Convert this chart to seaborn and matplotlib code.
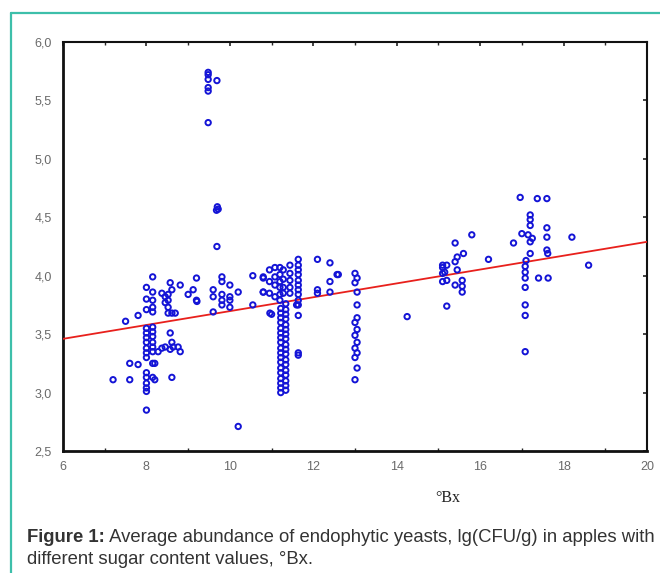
import numpy as np
import pandas as pd
import matplotlib
matplotlib.use("Agg")
import matplotlib.pyplot as plt
import seaborn as sns
from matplotlib.lines import Line2D
from matplotlib.ticker import FuncFormatter, MultipleLocator

# ---------------- data ----------------
# cluster around 7-9 °Bx
bx_a = [7.2, 7.6, 7.5, 7.8, 7.6, 7.8, 8.2, 8.2,
        8.0, 8.0, 8.0, 8.0, 8.0, 8.0, 8.0, 8.0, 8.0, 8.0, 8.0, 8.0, 8.0, 8.0, 8.0, 8.0,
        8.15, 8.15, 8.15, 8.15, 8.15, 8.15, 8.15, 8.15, 8.15, 8.15, 8.15, 8.15, 8.15]
lg_a = [3.11, 3.11, 3.61, 3.66, 3.25, 3.24, 3.25, 3.11,
        3.90, 3.80, 3.71, 3.55, 3.51, 3.47, 3.43, 3.38, 3.34, 3.30, 3.17, 3.13, 3.08, 3.04, 3.01, 2.85,
        3.99, 3.86, 3.79, 3.73, 3.69, 3.56, 3.52, 3.48, 3.43, 3.39, 3.35, 3.25, 3.13]

bx_b = [8.37, 8.45, 8.52, 8.45, 8.52, 8.57, 8.61, 8.52, 8.61, 8.52, 8.69,
        8.57, 8.61, 8.64, 8.57, 8.76, 8.81, 8.37, 8.28, 8.45, 8.61,
        8.81, 9.12, 9.0, 9.2, 9.2, 9.21]
lg_b = [3.85, 3.82, 3.79, 3.77, 3.73, 3.94, 3.88, 3.84, 3.68, 3.68, 3.68,
        3.51, 3.43, 3.39, 3.37, 3.39, 3.35, 3.38, 3.35, 3.39, 3.13,
        3.92, 3.88, 3.84, 3.79, 3.98, 3.78]

# cluster around 9.5-10.8 °Bx (incl. the high outliers)
bx_c = [9.48, 9.48, 9.48, 9.69, 9.48, 9.48, 9.48, 9.70, 9.68, 9.72, 9.69,
        9.81, 9.81, 10.0, 10.2, 9.6, 9.6, 9.81, 9.81, 10.0, 10.0, 9.81, 10.0, 9.6,
        10.55, 10.8, 10.8, 10.55, 10.2]
lg_c = [5.74, 5.72, 5.68, 5.67, 5.61, 5.58, 5.31, 4.59, 4.56, 4.57, 4.25,
        3.99, 3.95, 3.92, 3.86, 3.88, 3.82, 3.84, 3.79, 3.82, 3.79, 3.75, 3.73, 3.69,
        4.00, 3.98, 3.86, 3.75, 2.71]

# dense cluster around 10.8-12.6 °Bx
bx_d = [10.8, 10.8, 10.95, 10.95, 10.95, 11.08, 11.08, 11.08, 11.08,
        11.2, 11.2, 11.2, 11.2, 11.2, 11.2, 11.28, 11.28, 11.28, 11.28,
        11.44, 11.44, 11.44, 11.44, 11.44,
        11.64, 11.64, 11.64, 11.64, 11.64, 11.64, 11.64, 11.64, 11.64, 11.64, 11.64, 11.64,
        12.1, 12.4, 12.6, 12.4, 12.1, 12.1, 12.4, 10.96, 11.0, 11.6, 11.64, 12.57]
lg_d = [3.99, 3.86, 4.05, 3.95, 3.85, 4.07, 3.99, 3.92, 3.82,
        4.07, 4.01, 3.95, 3.90, 3.84, 3.79, 4.05, 3.97, 3.90, 3.85,
        4.02, 3.96, 3.90, 3.85, 4.09,
        4.14, 4.09, 4.05, 4.01, 3.96, 3.92, 3.88, 3.84, 3.79, 3.75, 3.66, 3.34,
        4.14, 4.11, 4.01, 3.95, 3.88, 3.85, 3.86, 3.68, 3.67, 3.75, 3.32, 4.01]

# the long column at ~11.2-11.35 °Bx
bx_e = [11.22] * 18 + [11.34] * 18
lg_e = [3.00, 3.04, 3.08, 3.12, 3.17, 3.21, 3.26, 3.30, 3.34, 3.38, 3.43, 3.47,
        3.51, 3.55, 3.60, 3.64, 3.68, 3.72,
        3.02, 3.06, 3.10, 3.15, 3.19, 3.24, 3.28, 3.33, 3.37, 3.41, 3.46, 3.50,
        3.54, 3.58, 3.63, 3.67, 3.71, 3.76]

# column at 13 °Bx and single point at 14.2
bx_f = [13.0, 13.05, 13.0, 13.05, 13.05, 13.05, 13.0, 13.05, 13.0, 13.05, 13.0,
        13.05, 13.0, 13.05, 13.0, 14.25]
lg_f = [4.02, 3.98, 3.94, 3.86, 3.75, 3.64, 3.60, 3.54, 3.49, 3.43, 3.38,
        3.34, 3.30, 3.21, 3.11, 3.65]

# cluster 15-16.2 °Bx
bx_g = [15.8, 15.4, 15.6, 15.45, 15.4, 15.1, 15.2, 15.1, 15.15, 15.45, 15.1,
        16.2, 15.1, 15.2, 15.4, 15.57, 15.57, 15.57, 15.2]
lg_g = [4.35, 4.28, 4.19, 4.16, 4.12, 4.09, 4.09, 4.07, 4.03, 4.05, 4.02,
        4.14, 3.95, 3.96, 3.92, 3.96, 3.91, 3.86, 3.74]

# cluster 16.8-18.6 °Bx
bx_h = [16.96, 17.37, 17.6, 17.2, 17.2, 17.2, 17.0, 17.15, 17.25, 17.2,
        17.6, 17.6, 16.8, 18.2, 17.6, 17.62, 17.2, 17.1, 17.08, 17.08, 17.08,
        17.4, 17.63, 17.08, 17.08, 17.08, 17.08, 18.6]
lg_h = [4.67, 4.66, 4.66, 4.52, 4.48, 4.43, 4.36, 4.35, 4.32, 4.29,
        4.41, 4.33, 4.28, 4.33, 4.22, 4.19, 4.19, 4.13, 4.08, 4.03, 3.98,
        3.98, 3.98, 3.90, 3.75, 3.66, 3.35, 4.09]

# fitted regression line
fit_intercept = 3.104
fit_slope = 0.0593
x_range = [6, 20]
y_range = [2.5, 6.0]
x_ticks = [6, 8, 10, 12, 14, 16, 18, 20]
y_ticks = [2.5, 3.0, 3.5, 4.0, 4.5, 5.0, 5.5, 6.0]

caption_bold = "Figure 1:"
caption_rest1 = " Average abundance of endophytic yeasts, lg(CFU/g) in apples with"
caption_line2 = "different sugar content values, °Bx."
x_label = "°Bx"

# ---------------- build table ----------------
df = pd.DataFrame({
    "bx": bx_a + bx_b + bx_c + bx_d + bx_e + bx_f + bx_g + bx_h,
    "lg": lg_a + lg_b + lg_c + lg_d + lg_e + lg_f + lg_g + lg_h,
})
line_df = pd.DataFrame({"bx": x_range})
line_df["lg"] = fit_intercept + fit_slope * line_df["bx"]

# ---------------- plot ----------------
sns.set_style("white")
plt.rcParams["font.family"] = ["Liberation Sans", "DejaVu Sans"]

fig = plt.figure(figsize=(6.6, 5.73), dpi=100)
ax = fig.add_axes([63 / 660, 1 - 451 / 573, (647 - 63) / 660, (451 - 42) / 573])

sns.lineplot(data=line_df, x="bx", y="lg", ax=ax, color="#e8201c", lw=1.3, zorder=3)
sns.scatterplot(data=df, x="bx", y="lg", ax=ax, marker="o", s=15, zorder=4)
coll = ax.collections[-1]
coll.set_facecolor("none")
coll.set_edgecolor("#1414d6")
coll.set_linewidth(1.4)

ax.set_xlim(*x_range)
ax.set_ylim(*y_range)
ax.set_xticks(x_ticks)
ax.set_yticks(y_ticks)
ax.xaxis.set_minor_locator(MultipleLocator(1))
ax.yaxis.set_major_formatter(FuncFormatter(lambda v, p: f"{v:.1f}".replace(".", ",")))
ax.xaxis.set_major_formatter(FuncFormatter(lambda v, p: f"{v:.0f}"))
ax.tick_params(axis="both", which="major", direction="in", length=3, width=1.2,
               colors="#222222", labelcolor="#6a6a6a", labelsize=9,
               top=True, right=True)
ax.tick_params(axis="x", which="minor", direction="in", length=2, width=1, top=True, bottom=True)
ax.tick_params(axis="y", which="major", pad=8)
ax.tick_params(axis="x", which="major", labelsize=9, pad=7)

for side in ["left", "bottom"]:
    ax.spines[side].set_linewidth(2.0)
    ax.spines[side].set_color("#111111")
for side in ["top", "right"]:
    ax.spines[side].set_linewidth(1.5)
    ax.spines[side].set_color("#111111")
ax.set_xlabel("")
ax.set_ylabel("")

fig.text(448 / 660, 1 - 498 / 573, x_label, family=["Liberation Serif", "DejaVu Serif"],
         fontsize=11.5, color="#222222", ha="center", va="center")

# teal frame
teal = "#3dbfaa"
fig.add_artist(Line2D([11 / 660, 11 / 660], [0, 1 - 13 / 573], color=teal, lw=1.6,
                      transform=fig.transFigure))
fig.add_artist(Line2D([11 / 660, 1], [1 - 13 / 573, 1 - 13 / 573], color=teal, lw=1.6,
                      transform=fig.transFigure))

# caption
cap_size = 13.3
t1 = fig.text(27 / 660, 1 - 537 / 573, caption_bold, fontsize=cap_size, fontweight="bold",
              color="#333333", ha="left", va="center")
fig.canvas.draw()
bb = t1.get_window_extent(renderer=fig.canvas.get_renderer())
fig.text(bb.x1 / 660, 1 - 537 / 573, caption_rest1, fontsize=cap_size,
         color="#333333", ha="left", va="center")
fig.text(27 / 660, 1 - 560 / 573, caption_line2, fontsize=cap_size,
         color="#333333", ha="left", va="center")

fig.savefig("out.png", dpi=100)
